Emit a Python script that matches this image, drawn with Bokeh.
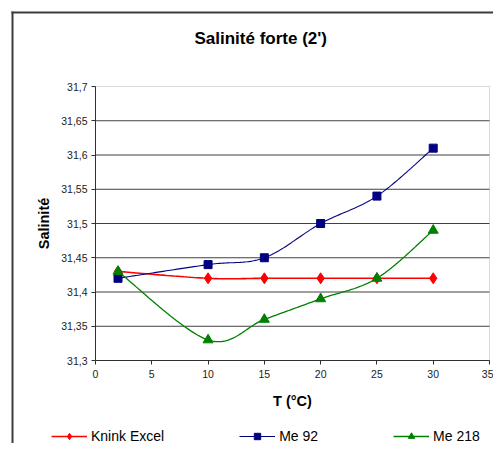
import numpy as np
from bokeh.plotting import figure
from bokeh.models import (Range1d, FixedTicker, CustomJSTickFormatter, Legend,
                          LegendItem, Label, BoxAnnotation)
from bokeh.embed import file_html
from bokeh.resources import INLINE

# ---- data ----
temps = [2, 10, 15, 20, 25, 30]
knink_excel = [31.43, 31.42, 31.42, 31.42, 31.42, 31.42]
me_92 = [31.42, 31.44, 31.45, 31.50, 31.54, 31.61]
me_218 = [31.43, 31.33, 31.36, 31.39, 31.42, 31.49]
series_names = ["Knink Excel", "Me 92", "Me 218"]
x_ticks = [0, 5, 10, 15, 20, 25, 30, 35]
y_ticks = [31.3, 31.35, 31.4, 31.45, 31.5, 31.55, 31.6, 31.65, 31.7]
title_text = "Salinité forte (2')"
x_label = "T (°C)"
y_label = "Salinité"


def smooth(xs, ys, steps=30):
    """Excel-like smoothed line (Catmull-Rom Bezier) through the points."""
    x = np.asarray(xs, float)
    y = np.asarray(ys, float)
    px = np.concatenate([[x[0]], x, [x[-1]]])
    py = np.concatenate([[y[0]], y, [y[-1]]])
    t = np.linspace(0, 1, steps + 1)[1:]
    ox, oy = [x[0]], [y[0]]
    for i in range(len(x) - 1):
        c1x = x[i] + (px[i + 2] - px[i]) / 6
        c1y = y[i] + (py[i + 2] - py[i]) / 6
        c2x = x[i + 1] - (px[i + 3] - px[i + 1]) / 6
        c2y = y[i + 1] - (py[i + 3] - py[i + 1]) / 6
        a = (1 - t) ** 3
        b = 3 * (1 - t) ** 2 * t
        c = 3 * (1 - t) * t ** 2
        d = t ** 3
        ox.extend(a * x[i] + b * c1x + c * c2x + d * x[i + 1])
        oy.extend(a * y[i] + b * c1y + c * c2y + d * y[i + 1])
    return ox, oy


FONT = "Liberation Sans"

# ---- layout (pixels) ----
W, H = 493, 443
PL, PR, PT, PB = 95, 489, 86, 360          # plot area inside the canvas
x_lo, x_hi = x_ticks[0], x_ticks[-1]
y_lo, y_hi = y_ticks[0], y_ticks[-1]
kx = (x_hi - x_lo) / (PR - PL)
ky = (y_hi - y_lo) / (PB - PT)

p = figure(width=W, height=H, title=None,
           x_range=Range1d(x_lo - PL * kx, x_hi + (W - PR) * kx),
           y_range=Range1d(y_lo - (H - PB) * ky, y_hi + PT * ky),
           output_backend="svg", toolbar_location=None,
           min_border=0, min_border_left=0, min_border_right=0,
           min_border_top=0, min_border_bottom=0)
p.background_fill_color = "white"
p.border_fill_color = "white"
p.outline_line_color = None
p.xgrid.visible = False
p.ygrid.visible = False

# outer chart border (left and top edges; the rest lies outside the picture)
p.add_layout(BoxAnnotation(left=11, right=13, top=11, bottom=5000,
                           left_units="canvas", right_units="canvas",
                           top_units="canvas", bottom_units="canvas",
                           fill_color="#3c3c3c", fill_alpha=1, line_color=None,
                           level="underlay"))
p.add_layout(BoxAnnotation(left=11, right=5000, top=11, bottom=13,
                           left_units="canvas", right_units="canvas",
                           top_units="canvas", bottom_units="canvas",
                           fill_color="#3c3c3c", fill_alpha=1, line_color=None,
                           level="underlay"))

# plot area outline
p.add_layout(BoxAnnotation(left=x_lo, right=x_hi, bottom=y_lo, top=y_hi,
                           fill_color="white", fill_alpha=1,
                           line_color="#808080", line_width=1, level="underlay"))

# horizontal gridlines
grid_vals = y_ticks[1:-1]
p.segment(x0=[x_lo] * len(grid_vals), x1=[x_hi] * len(grid_vals),
          y0=grid_vals, y1=grid_vals, line_color="#404040", line_width=1)

# axes
p.xaxis.fixed_location = y_lo
p.xaxis.bounds = (x_lo, x_hi)
p.yaxis.fixed_location = x_lo
p.yaxis.bounds = (y_lo, y_hi)
p.xaxis.ticker = FixedTicker(ticks=x_ticks)
p.yaxis.ticker = FixedTicker(ticks=y_ticks)
p.yaxis.formatter = CustomJSTickFormatter(
    code="return (Math.round(tick*100)/100).toString().replace('.', ',');")
for ax in (p.xaxis[0], p.yaxis[0]):
    ax.axis_line_color = "#303030"
    ax.axis_line_width = 1
    ax.major_tick_line_color = "#303030"
    ax.major_tick_out = 4
    ax.major_tick_in = 0
    ax.minor_tick_line_color = None
    ax.major_label_text_font = FONT
    ax.major_label_text_font_size = "10.5px"
    ax.major_label_text_color = "#222222"
    ax.axis_label_text_font = FONT
    ax.axis_label_text_font_size = "14.5px"
    ax.axis_label_text_font_style = "bold"
    ax.axis_label_text_color = "black"
p.yaxis.major_label_standoff = 4
p.xaxis.major_label_standoff = 5
p.xaxis.axis_label = x_label
p.yaxis.axis_label = y_label
p.xaxis.axis_label_standoff = 12
p.yaxis.axis_label_standoff = 6

# series
specs = [
    (knink_excel, "#FF0000", 1.6, "diamond", 11),
    (me_92, "#000080", 1.1, "square", 8),
    (me_218, "#008000", 1.3, "triangle", 10),
]
items = []
for name, (vals, col, lw, mk, sz) in zip(series_names, specs):
    sx, sy = smooth(temps, vals)
    lr = p.line(sx, sy, line_color=col, line_width=lw)
    sr = p.scatter(temps, vals, marker=mk, size=sz, fill_color=col, line_color=col)
    items.append(LegendItem(label=name, renderers=[lr, sr]))

legend = Legend(items=items, orientation="horizontal", location=(51, H - 444),
                spacing=75, padding=0, margin=0, glyph_width=36, glyph_height=16,
                label_height=16, label_standoff=4, border_line_alpha=0,
                background_fill_alpha=0, label_text_font=FONT,
                label_text_font_size="14px", label_text_color="black")
p.add_layout(legend, "center")

p.add_layout(Label(x=194, y=38, x_units="canvas", y_units="canvas",
                   text=title_text, text_font=FONT, text_font_size="17px",
                   text_font_style="bold", text_baseline="alphabetic",
                   text_align="left", text_color="black"))

open("out.html", "w").write(file_html(p, INLINE))
